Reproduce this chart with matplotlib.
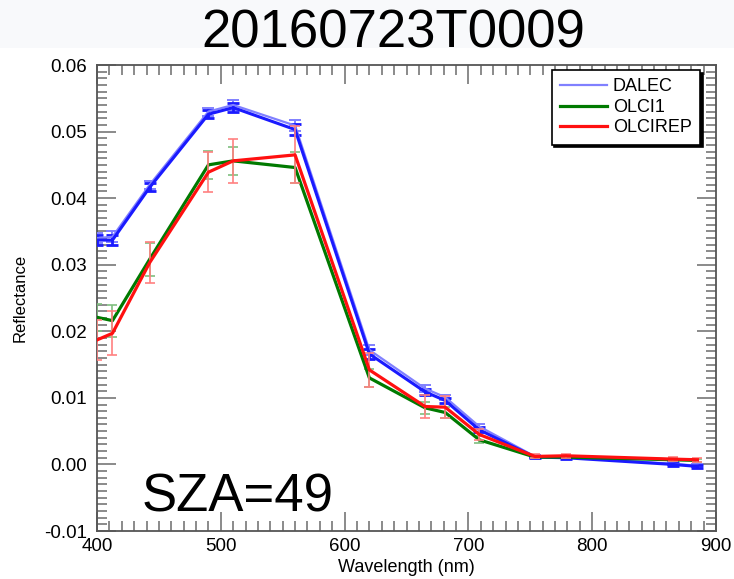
import matplotlib
matplotlib.use("Agg")
import matplotlib.pyplot as plt
from matplotlib.ticker import MultipleLocator, FormatStrFormatter

plt.rcParams['font.family'] = ['Liberation Sans', 'DejaVu Sans']

# OLCI band centres (nm)
wavelength = [400, 412.5, 442.5, 490, 510, 560, 620, 665, 681.25, 708.75,
              753.75, 778.75, 865, 885]

# DALEC reflectance (two overlaid traces) and spread
dalec = [0.0340, 0.0342, 0.0420, 0.0530, 0.0540, 0.0509, 0.0172, 0.0114,
         0.0101, 0.0057, 0.0012, 0.0011, 0.0001, -0.0002]
dalec_b = [0.0337, 0.0337, 0.0416, 0.0526, 0.0536, 0.0503, 0.0166, 0.0109,
           0.0096, 0.0052, 0.0011, 0.0010, 0.0000, -0.0003]
dalec_err = [0.0008, 0.0008, 0.0006, 0.0006, 0.0007, 0.0008, 0.0007, 0.0005,
             0.0004, 0.0004, 0.0002, 0.0002, 0.0002, 0.0002]

# OLCI1 reflectance and spread
olci1 = [0.0221, 0.0216, 0.0308, 0.0450, 0.0456, 0.0446, 0.0130, 0.0085,
         0.0078, 0.0037, 0.0011, 0.0011, 0.0007, 0.0006]
olci1_err = [0.0020, 0.0024, 0.0025, 0.0021, 0.0021, 0.0023, 0.0013, 0.0009,
             0.0008, 0.0005, 0.0002, 0.0002, 0.0002, 0.0002]

# OLCIREP reflectance and spread
olcirep = [0.0187, 0.0197, 0.0303, 0.0439, 0.0456, 0.0465, 0.0142, 0.0087,
           0.0086, 0.0045, 0.0012, 0.0013, 0.0008, 0.0007]
olcirep_err = [0.0030, 0.0033, 0.0031, 0.0030, 0.0033, 0.0043, 0.0026, 0.0017,
               0.0017, 0.0008, 0.0003, 0.0003, 0.0003, 0.0003]

title_text = "20160723T0009"
sza_text = "SZA=49"

fig = plt.figure(figsize=(7.34, 5.79), dpi=100)
fig.patch.set_facecolor('white')
# faint header band behind the title
fig.patches.append(plt.Rectangle((0, 1 - 48 / 579), 1, 48 / 579,
                                 transform=fig.transFigure, facecolor='#f8f9fb',
                                 edgecolor='none', zorder=0))

ax = fig.add_axes([97 / 734, 48 / 579, 619 / 734, 466 / 579])

# DALEC traces
ax.errorbar(wavelength, dalec, yerr=dalec_err, color='#8080ff', lw=1.6,
            elinewidth=1.4, capsize=4, capthick=1.4, label='DALEC', zorder=3)
ax.errorbar(wavelength, dalec_b, yerr=dalec_err, color='#1a1aff', lw=2.2,
            elinewidth=2.0, capsize=4, capthick=2.0, zorder=3)

# OLCI1
ax.errorbar(wavelength, olci1, yerr=olci1_err, color='#007a00', lw=2.3,
            ecolor='#7fbf7f', elinewidth=1.2, capsize=3.5, capthick=1.2,
            label='OLCI1', zorder=4)
# OLCIREP
ax.errorbar(wavelength, olcirep, yerr=olcirep_err, color='#ff1010', lw=2.3,
            ecolor='#ff8080', elinewidth=1.2, capsize=3.5, capthick=1.2,
            label='OLCIREP', zorder=5)

ax.set_xlim(400, 900)
ax.set_ylim(-0.01, 0.06)
ax.xaxis.set_major_locator(MultipleLocator(100))
ax.xaxis.set_minor_locator(MultipleLocator(10))
ax.yaxis.set_major_locator(MultipleLocator(0.01))
ax.yaxis.set_minor_locator(MultipleLocator(0.001))
ax.yaxis.set_major_formatter(FormatStrFormatter('%.2f'))

edge = '#555555'
for s in ax.spines.values():
    s.set_color(edge)
    s.set_linewidth(1.3)
ax.tick_params(which='both', direction='in', top=True, right=True,
               color='#777777', width=1.2, labelsize=13.5, labelcolor='black')
ax.tick_params(which='major', length=14)
ax.tick_params(which='minor', length=7)
ax.tick_params(axis='x', which='major', pad=5)
ax.tick_params(axis='y', which='major', pad=7)

ax.set_xlabel('Wavelength (nm)', fontsize=13, labelpad=3)
ax.set_ylabel('Reflectance', fontsize=12, labelpad=12)

handles, labels = ax.get_legend_handles_labels()
handles = [h[0] for h in handles]
leg = ax.legend(handles, labels, loc='upper right',
                bbox_to_anchor=(0.974, 0.989), fontsize=13, frameon=True,
                fancybox=False, shadow={'color': 'black', 'alpha': 1},
                handlelength=2.6, handletextpad=0.35, labelspacing=0.2,
                borderpad=0.45, borderaxespad=0)
leg.get_frame().set_edgecolor('black')
leg.get_frame().set_linewidth(1.2)
for h, lw in zip(leg.get_lines(), [1.6, 2.3, 2.3]):
    h.set_linewidth(lw)

fig.text(393 / 734, 1 - 33 / 579, title_text, fontsize=38, ha='center',
         va='center', color='black')
ax.text(0.072, 0.041, sza_text, transform=ax.transAxes, fontsize=38,
        ha='left', va='baseline', color='black', zorder=6)

fig.savefig('out.png', dpi=100, facecolor=fig.get_facecolor())
